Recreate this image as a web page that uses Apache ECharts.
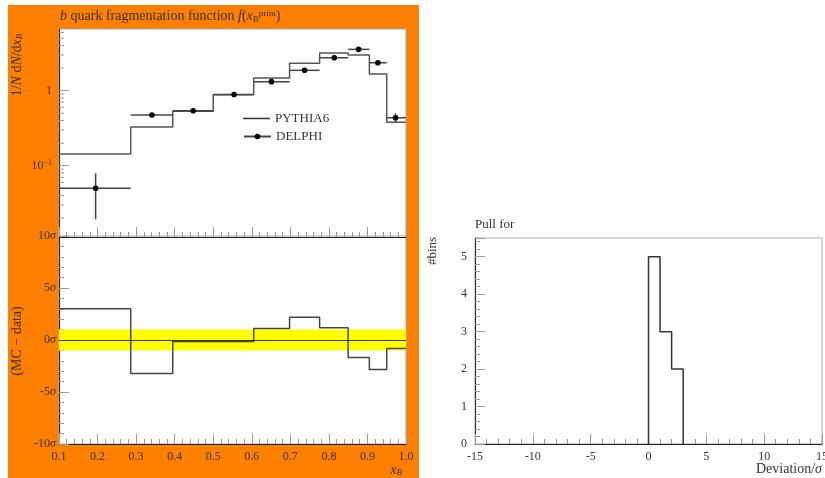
<!DOCTYPE html>
<html><head><meta charset="utf-8">
<script src="https://cdn.jsdelivr.net/npm/echarts@6/dist/echarts.min.js"></script>
<style>html,body{margin:0;padding:0;background:#fff}#c{width:825px;height:478px}</style>
</head><body><div id="c"></div>
<script>
// ---------- data ----------
const binEdges = [0.1, 0.286, 0.395, 0.5, 0.605, 0.698, 0.776, 0.85, 0.905, 0.95, 1.0];
const pythiaValues = [0.143, 0.328, 0.531, 0.885, 1.476, 2.32, 3.18, 2.99, 1.67, 0.379];
const delphiX = [0.195, 0.341, 0.448, 0.554, 0.651, 0.737, 0.814, 0.877, 0.927, 0.973];
const delphiY = [0.050, 0.474, 0.541, 0.89, 1.32, 1.87, 2.75, 3.56, 2.36, 0.436];
const delphiYlo = [0.0193, 0.445, 0.505, 0.835, 1.23, 1.76, 2.60, 3.36, 2.21, 0.375];
const delphiYhi = [0.0794, 0.505, 0.58, 0.95, 1.41, 1.99, 2.91, 3.77, 2.52, 0.50];
const deviation = [3.0, -3.21, -0.15, -0.15, 1.10, 2.19, 1.17, -1.68, -2.83, -0.82];
const sigmaBand = [-1, 1];
const logMinorTicks = [0.02,0.03,0.04,0.05,0.06,0.07,0.08,0.09,0.2,0.3,0.4,0.5,0.6,0.7,0.8,0.9,2,3,4,5,6];
const pullEdges = [0, 1, 2, 3];
const pullCounts = [5, 3, 2];

// ---------- helpers ----------
const FONT = 'Liberation Serif';
const TXT = '#333';
const stepData = (edges, vals) => edges.map((e, i) => [e, i < vals.length ? vals[i] : vals[vals.length - 1]]);
const pullStep = [[pullEdges[0], 0]].concat(pullEdges.map((e, i) => [e, i < pullCounts.length ? pullCounts[i] : 0]));

const tickCommon = {inside: true, length: 10, lineStyle: {color: '#999', width: 1}};
const minorCommon = {show: true, splitNumber: 5, length: 5, lineStyle: {color: '#999', width: 1}};
const lblStyle = {fontFamily: FONT, fontSize: 12, color: TXT};
const axLine = {show: true, onZero: false, lineStyle: {color: '#222'}};

const chart = echarts.init(document.getElementById('c'));
const option = {
  animation: false,
  backgroundColor: '#fff',
  graphic: [
    {type: 'rect', z: -10, shape: {x: 8, y: 5, width: 411, height: 473}, style: {fill: '#ff8000'}},
    {type: 'text', z: 10, x: 17, y: 65, rotation: Math.PI / 2,
     style: {text: '1/{i|N} d{i|N}/d{i|x}{sub|B}', align: 'center', verticalAlign: 'middle',
       font: '14px "Liberation Serif"', fill: TXT,
       rich: {i: {fontStyle: 'italic', fontFamily: FONT, fontSize: 14, fill: TXT}, sub: {fontSize: 9, fontFamily: FONT, fontStyle: 'italic', verticalAlign: 'bottom', fill: TXT}}}},
    {type: 'text', z: 10, x: 17, y: 341, rotation: Math.PI / 2,
     style: {text: '(MC \u2212 data)', align: 'center', verticalAlign: 'middle', font: '14px "Liberation Serif"', fill: TXT}},
    {type: 'text', z: 10, x: 433, y: 251, rotation: Math.PI / 2,
     style: {text: '#bins', align: 'center', verticalAlign: 'middle', font: '13px "Liberation Serif"', fill: TXT}}
  ],
  title: [
    {left: 60, top: 9, padding: 0, text: '{i|b} quark fragmentation function {i|f}({i|x}{sub|B}{sup|prim})',
     textStyle: {fontFamily: FONT, fontSize: 14, fontWeight: 'normal', color: TXT,
       rich: {i: {fontStyle: 'italic', fontFamily: FONT, fontSize: 14, color: TXT},
              sub: {fontSize: 9, fontFamily: FONT, color: TXT, verticalAlign: 'bottom', padding: [6, 0, 0, 0]},
              sup: {fontSize: 9, fontFamily: FONT, color: TXT, verticalAlign: 'top', padding: [0, 0, 6, 0]}}}},
    {left: 475, top: 218, padding: 0, text: 'Pull for', textStyle: {fontFamily: FONT, fontSize: 13, fontWeight: 'normal', color: TXT}}
  ],
  legend: [
    {left: 243, top: 112, padding: 0, orient: 'vertical', itemWidth: 27, itemHeight: 1.5, icon: 'rect',
     textStyle: {fontFamily: FONT, fontSize: 13, color: TXT}, itemStyle: {color: '#333'},
     data: ['PYTHIA6']},
    {left: 243, top: 130, padding: 0, orient: 'vertical', itemWidth: 27, itemHeight: 7,
     textStyle: {fontFamily: FONT, fontSize: 13, color: TXT},
     data: ['DELPHI']}
  ],
  grid: [
    {left: 59, top: 29, width: 347, height: 208, show: true, backgroundColor: '#fff', borderColor: '#aaa', borderWidth: 1, outerBoundsMode: 'none'},
    {left: 59, top: 236, width: 347, height: 208, show: true, backgroundColor: '#fff', borderColor: '#aaa', borderWidth: 1, outerBoundsMode: 'none'},
    {left: 475, top: 238, width: 347, height: 206, show: true, backgroundColor: '#fff', borderColor: '#aaa', borderWidth: 1, outerBoundsMode: 'none'}
  ],
  xAxis: [
    {gridIndex: 0, type: 'value', min: 0.1, max: 1.0, interval: 0.1,
     axisLine: axLine, axisTick: tickCommon, minorTick: minorCommon,
     axisLabel: {show: false}, splitLine: {show: false}},
    {gridIndex: 1, type: 'value', min: 0.1, max: 1.0, interval: 0.1,
     axisLine: axLine, axisTick: tickCommon, minorTick: minorCommon,
     axisLabel: Object.assign({margin: 7, formatter: v => v.toFixed(1)}, lblStyle), splitLine: {show: false},
     name: '{i|x}{sub|B}', nameLocation: 'end', nameGap: -4, nameMoveOverlap: false,
     nameTextStyle: {fontFamily: FONT, fontSize: 14, color: TXT, align: 'right', verticalAlign: 'top', padding: [19, 0, 0, 0],
       rich: {i: {fontStyle: 'italic', fontFamily: FONT, fontSize: 14, color: TXT}, sub: {fontSize: 9, fontFamily: FONT, fontStyle: 'italic', color: TXT, verticalAlign: 'bottom'}}}},
    {gridIndex: 2, type: 'value', min: -15, max: 15, interval: 5,
     axisLine: axLine, axisTick: tickCommon, minorTick: minorCommon,
     axisLabel: Object.assign({margin: 7}, lblStyle), splitLine: {show: false},
     name: 'Deviation/{i|\u03c3}', nameLocation: 'end', nameGap: 0, nameMoveOverlap: false,
     nameTextStyle: {fontFamily: FONT, fontSize: 14, color: TXT, align: 'right', verticalAlign: 'top', padding: [18, 0, 0, 0],
       rich: {i: {fontStyle: 'italic', fontFamily: FONT, fontSize: 14, color: TXT}}}}
  ],
  yAxis: [
    {gridIndex: 0, type: 'log', logBase: 10, min: 0.0112, max: 6.65,
     axisLine: axLine, axisTick: tickCommon, minorTick: {show: false},
     splitLine: {show: false},
     axisLabel: Object.assign({margin: 7, showMinLabel: false, showMaxLabel: false,
       formatter: v => Math.abs(v - 1) < 1e-6 ? '1' : (Math.abs(v - 0.1) < 1e-7 ? '10{sup|\u22121}' : ''),
       rich: {sup: {fontSize: 8, fontFamily: FONT, color: TXT, verticalAlign: 'top', padding: [0, 0, 6, 0]}}}, lblStyle)},
    {gridIndex: 1, type: 'value', min: -10, max: 10, interval: 5,
     axisLine: axLine, axisTick: tickCommon, minorTick: minorCommon,
     splitLine: {show: false},
     axisLabel: Object.assign({margin: 3, formatter: v => v + '{s|\u03c3}',
       rich: {s: {fontStyle: 'italic', fontFamily: FONT, fontSize: 12, color: TXT}}}, lblStyle)},
    {gridIndex: 2, type: 'value', min: 0, max: 5.5, interval: 1,
     axisLine: axLine, axisTick: tickCommon, minorTick: minorCommon,
     splitLine: {show: false},
     axisLabel: Object.assign({margin: 8, formatter: v => Number.isInteger(v) ? String(v) : ''}, lblStyle)}
  ],
  series: [
    {name: 'PYTHIA6', type: 'line', xAxisIndex: 0, yAxisIndex: 0, step: 'end', symbol: 'none',
     data: stepData(binEdges, pythiaValues), lineStyle: {color: '#555', width: 1.5}, itemStyle: {color: '#555'}, z: 3},
    {name: 'DELPHI', type: 'line', xAxisIndex: 0, yAxisIndex: 0, data: [], symbol: 'circle', symbolSize: 5,
     lineStyle: {color: '#444', width: 1.5}, itemStyle: {color: '#000'}},
    {type: 'custom', xAxisIndex: 0, yAxisIndex: 0, z: 5,
     data: delphiX.map((x, i) => [x, delphiY[i], binEdges[i], binEdges[i + 1], delphiYlo[i], delphiYhi[i]]),
     encode: {x: 0, y: 1},
     renderItem: (params, api) => {
       const c = api.coord([api.value(0), api.value(1)]);
       const l = api.coord([api.value(2), api.value(1)]);
       const r = api.coord([api.value(3), api.value(1)]);
       const lo = api.coord([api.value(0), api.value(4)]);
       const hi = api.coord([api.value(0), api.value(5)]);
       return {type: 'group', children: [
         {type: 'line', shape: {x1: l[0], y1: c[1], x2: r[0], y2: c[1]}, style: {stroke: '#444', lineWidth: 1.5}},
         {type: 'line', shape: {x1: c[0], y1: lo[1], x2: c[0], y2: hi[1]}, style: {stroke: '#444', lineWidth: 1.5}},
         {type: 'circle', shape: {cx: c[0], cy: c[1], r: 2.8}, style: {fill: '#000'}}
       ]};
     }},
    {type: 'custom', xAxisIndex: 0, yAxisIndex: 0, z: 4, silent: true,
     data: logMinorTicks.map(v => [0.1, v]), encode: {x: 0, y: 1},
     renderItem: (params, api) => {
       const p = api.coord([api.value(0), api.value(1)]);
       return {type: 'line', shape: {x1: p[0], y1: p[1], x2: p[0] + 5, y2: p[1]}, style: {stroke: '#999', lineWidth: 1}};
     }},
    {type: 'line', xAxisIndex: 1, yAxisIndex: 1, data: [], z: 1, silent: true,
     markArea: {silent: true, itemStyle: {color: '#ffff00', opacity: 1},
       data: [[{xAxis: binEdges[0], yAxis: sigmaBand[0]}, {xAxis: binEdges[binEdges.length - 1], yAxis: sigmaBand[1]}]]},
     markLine: {silent: true, symbol: 'none', label: {show: false}, lineStyle: {color: '#333', width: 1, type: 'solid'},
       data: [{yAxis: 0}]}},
    {type: 'line', xAxisIndex: 1, yAxisIndex: 1, step: 'end', symbol: 'none', z: 3,
     data: stepData(binEdges, deviation), lineStyle: {color: '#444', width: 1.5}},
    {type: 'line', xAxisIndex: 2, yAxisIndex: 2, step: 'end', symbol: 'none', z: 3,
     data: pullStep, lineStyle: {color: '#333', width: 1.5}}
  ]
};
chart.setOption(option);
</script>
</body></html>
